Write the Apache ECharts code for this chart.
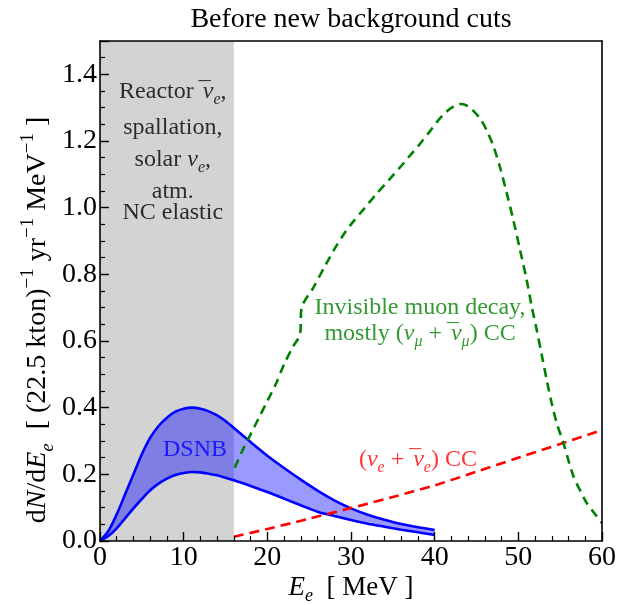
<!DOCTYPE html>
<html><head><meta charset="utf-8">
<script src="https://cdn.jsdelivr.net/npm/echarts@6/dist/echarts.min.js"></script>
<style>html,body{margin:0;padding:0;background:#fff}#c{width:637px;height:605px}</style>
</head><body><div id="c"></div>
<script>
// ---- data ----
const dsnbE     = [0,1,2,3,4,5,6,7,8,9,10,11,12,13,14,15,16,17,18,19,20,22,24,26,28,30,32,34,36,38,40];
const dsnbUpper = [0,0.03,0.08,0.14,0.20,0.26,0.31,0.345,0.37,0.388,0.397,0.40,0.397,0.389,0.377,0.36,0.339,0.318,0.297,0.276,0.256,0.219,0.184,0.151,0.122,0.098,0.079,0.064,0.051,0.041,0.033];
const dsnbLower = [0,0.015,0.038,0.068,0.098,0.126,0.152,0.172,0.187,0.198,0.204,0.207,0.206,0.202,0.197,0.190,0.182,0.174,0.165,0.156,0.147,0.127,0.107,0.088,0.075,0.063,0.052,0.043,0.034,0.026,0.018];
const ccE    = [16,20,25,30,35,40,45,50,55,60];
const ccVal  = [0.013,0.036,0.067,0.099,0.132,0.167,0.208,0.25,0.291,0.333];
const muE    = [16.1,17,18,19,20,21,22,23,23.9,24.1,25.5,27,28,29,30,31.5,33,34.7,36,37,38.2,39.4,40.2,41,41.8,42.5,43.2,44,44.6,45.5,46.2,47,47.8,48.6,49.4,50.2,51,51.6,52.2,52.8,53.4,54,54.6,55.4,56,56.6,57.4,58.2,59,60];
const muVal  = [0.22,0.27,0.32,0.37,0.42,0.47,0.53,0.58,0.62,0.70,0.76,0.83,0.875,0.915,0.95,0.995,1.04,1.088,1.125,1.155,1.19,1.228,1.255,1.278,1.296,1.307,1.311,1.304,1.291,1.265,1.233,1.186,1.122,1.045,0.963,0.874,0.783,0.703,0.633,0.558,0.482,0.412,0.353,0.293,0.241,0.193,0.151,0.113,0.086,0.053];
const xTicks = [0,10,20,30,40,50,60];
const yTicks = [0,0.2,0.4,0.6,0.8,1.0,1.2,1.4];
const bgCutE = [0,16];
const noteText = [
  'Reactor {bar|¯}{it|ν}{sub|e},',
  'spallation,',
  'solar {it|ν}{sub|e},',
  'atm.',
  'NC elastic'
];
const notePos = [[8.7,1.347],[8.7,1.239],[8.7,1.143],[8.7,1.047],[8.7,0.984]];
const dsnbLabel = ['DSNB'];
const dsnbLabelPos = [[11.35,0.273]];
const muText = ['Invisible muon decay,', 'mostly ({it|ν}{sub|μ}{op| + }{bar|¯}{it|ν}{sub|μ}) CC'];
const muTextPos = [[38.25,0.699],[38.25,0.622]];
const ccText = ['({it|ν}{sub|e}{op| + }{bar|¯}{it|ν}{sub|e}) CC'];
const ccTextPos = [[38.0,0.243]];

const FONT = '"Liberation Serif", "DejaVu Serif", serif';
function rich(size, color) {
  const s = Math.round(size * 0.68);
  return {
    it:  {fontFamily: FONT, fontSize: size, fontStyle: 'italic', color: color, fill: color, lineHeight: size + 8},
    bar: {fontFamily: FONT, fontSize: size, fontStyle: 'italic', color: color, fill: color, lineHeight: size + 8, width: 0, padding: [0, 0, 0, 3]},
    sub: {fontFamily: FONT, fontSize: s, fontStyle: 'italic', color: color, fill: color, lineHeight: size + 2, verticalAlign: 'bottom'},
    sup: {fontFamily: FONT, fontSize: s, color: color, fill: color, lineHeight: s + 3, verticalAlign: 'top'},
    op:  {fontFamily: FONT, fontSize: size, color: color, fill: color, lineHeight: size + 8}
  };
}
function labelSeries(pos, texts, size, color) {
  return {
    type: 'scatter', symbolSize: 0, silent: true, z: 20,
    data: pos.map((p, i) => ({value: p, name: texts[i]})),
    label: {
      show: true, position: 'inside',
      formatter: p => p.name,
      fontFamily: FONT, fontSize: size, color: color, lineHeight: size + 8,
      rich: rich(size, color)
    }
  };
}

const chart = echarts.init(document.getElementById('c'), null, {renderer: 'canvas'});
const axisLineStyle = {color: '#000', width: 1.6};
chart.setOption({
  animation: false,
  backgroundColor: '#fff',
  grid: {left: 100, right: 35, top: 41, bottom: 64, containLabel: false, outerBoundsMode: 'none'},
  xAxis: [{
    type: 'value', min: xTicks[0], max: xTicks[xTicks.length - 1], interval: 10, z: 10,
    axisLine: {show: true, onZero: false, lineStyle: axisLineStyle},
    axisTick: {show: true, inside: true, length: 9, lineStyle: {color: '#000', width: 1.4}},
    minorTick: {show: true, splitNumber: 5, length: 5, lineStyle: {color: '#000', width: 1.2}},
    axisLabel: {fontFamily: FONT, fontSize: 28, color: '#000', margin: 3},
    splitLine: {show: false}
  }, {
    type: 'value', position: 'top', min: 0, max: 60, z: 10,
    axisLine: {show: true, onZero: false, lineStyle: axisLineStyle},
    axisTick: {show: false}, axisLabel: {show: false}, splitLine: {show: false}
  }],
  yAxis: [{
    type: 'value', min: 0, max: 1.5, interval: 0.2, z: 10,
    axisLine: {show: true, onZero: false, lineStyle: axisLineStyle},
    axisTick: {show: true, inside: true, length: 9, lineStyle: {color: '#000', width: 1.4}},
    minorTick: {show: true, splitNumber: 4, length: 5, lineStyle: {color: '#000', width: 1.2}},
    axisLabel: {fontFamily: FONT, fontSize: 28, color: '#000', margin: 3, showMaxLabel: false,
      formatter: v => (yTicks.some(t => Math.abs(t - v) < 1e-6) ? v.toFixed(1) : '')},
    splitLine: {show: false}
  }, {
    type: 'value', position: 'right', min: 0, max: 1.5, z: 10,
    axisLine: {show: true, onZero: false, lineStyle: axisLineStyle},
    axisTick: {show: false}, axisLabel: {show: false}, splitLine: {show: false}
  }],
  graphic: [{
    type: 'text', x: 351, y: 20, z: 30,
    style: {text: 'Before new background cuts', fontFamily: FONT, fontSize: 28, fill: '#000', align: 'center', verticalAlign: 'middle'}
  }, {
    type: 'text', x: 351, y: 588, z: 30,
    style: {
      text: '{it|E}{sub|e}  [ MeV ]',
      fontFamily: FONT, fontSize: 27, fill: '#000', align: 'center', verticalAlign: 'middle', lineHeight: 35,
      rich: rich(27, '#000')
    }
  }, {
    type: 'text', x: 38, y: 320, rotation: Math.PI / 2, z: 30,
    style: {
      text: 'd{it|N}/d{it|E}{sub|e}  [ (22.5 kton){sup|−1} yr{sup|−1} MeV{sup|−1} ]',
      fontFamily: FONT, fontSize: 28, fill: '#000', align: 'center', verticalAlign: 'middle', lineHeight: 38,
      rich: {
        it:  {fontFamily: FONT, fontSize: 28, fontStyle: 'italic', fill: '#000', lineHeight: 38},
        sub: {fontFamily: FONT, fontSize: 19, fontStyle: 'italic', fill: '#000', lineHeight: 28, verticalAlign: 'bottom'},
        sup: {fontFamily: FONT, fontSize: 19, fill: '#000', lineHeight: 20, verticalAlign: 'top'}
      }
    }
  }],
  series: [
    {
      type: 'line', data: [], silent: true, z: 1,
      markArea: {silent: true, itemStyle: {color: '#d3d3d3'},
        data: [[{xAxis: bgCutE[0]}, {xAxis: bgCutE[1]}]]}
    },
    {
      name: 'band', type: 'custom', z: 3, silent: true, clip: true,
      data: [[0, 0]],
      renderItem: function (params, api) {
        const pts = [];
        for (let i = 0; i < dsnbE.length; i++) pts.push(api.coord([dsnbE[i], dsnbUpper[i]]));
        for (let i = dsnbE.length - 1; i >= 0; i--) pts.push(api.coord([dsnbE[i], dsnbLower[i]]));
        return {type: 'polygon', shape: {points: pts}, style: {fill: 'rgba(0,0,255,0.4)'}};
      }
    },
    {
      name: 'lower', type: 'line', smooth: 0.3, showSymbol: false, z: 4,
      data: dsnbE.map((e, i) => [e, dsnbLower[i]]),
      lineStyle: {color: '#0000ff', width: 2.6}
    },
    {
      name: 'upper', type: 'line', smooth: 0.3, showSymbol: false, z: 4,
      data: dsnbE.map((e, i) => [e, dsnbUpper[i]]),
      lineStyle: {color: '#0000ff', width: 2.6}
    },
    {
      name: 'cc', type: 'line', smooth: 0.3, showSymbol: false, z: 5,
      data: ccE.map((e, i) => [e, ccVal[i]]),
      lineStyle: {color: '#ff0000', width: 2.6, type: [10, 6]}
    },
    {
      name: 'mu', type: 'line', smooth: 0.3, showSymbol: false, z: 6,
      data: muE.map((e, i) => [e, muVal[i]]),
      lineStyle: {color: '#008000', width: 2.6, type: [9, 6]}
    },
    labelSeries(notePos, noteText, 24, '#000'),
    labelSeries(dsnbLabelPos, dsnbLabel, 24, '#0000ff'),
    labelSeries(muTextPos, muText, 24, '#008000'),
    labelSeries(ccTextPos, ccText, 24, '#ff0000')
  ]
});
</script></body></html>
